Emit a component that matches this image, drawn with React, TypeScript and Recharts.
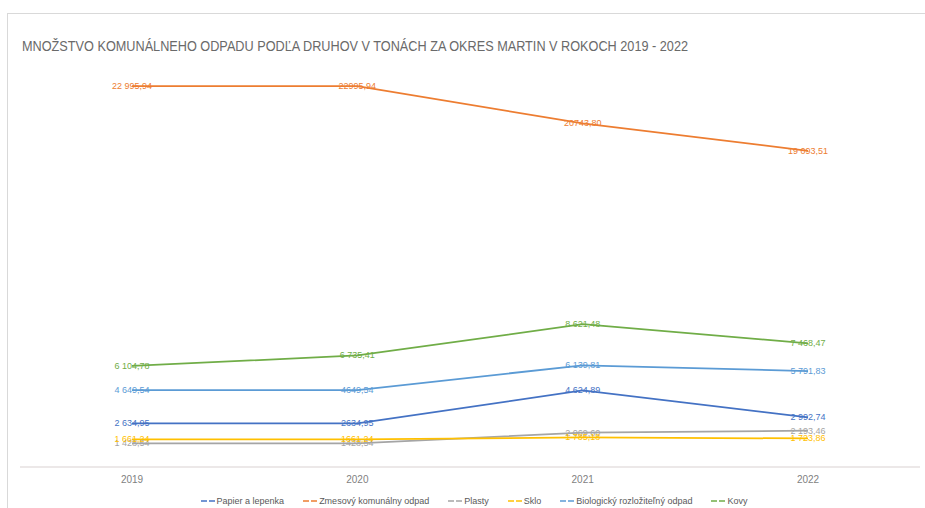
import React from "react";
import { LineChart, Line, XAxis, YAxis, Legend, LabelList } from "recharts";

const years = ["2019", "2020", "2021", "2022"];

const papier = [2634.95, 2634.95, 4624.89, 2992.74];
const zmesovy = [22995.94, 22995.94, 20743.8, 19093.51];
const plasty = [1428.54, 1428.54, 2069.6, 2193.46];
const sklo = [1661.24, 1661.24, 1785.18, 1723.86];
const bio = [4649.54, 4649.54, 6139.81, 5791.83];
const kovy = [6104.78, 6735.41, 8621.48, 7468.47];

const papierLabels = ["2 634,95", "2634,95", "4 624,89", "2 992,74"];
const zmesovyLabels = ["22 995,94", "22995,94", "20743,80", "19 093,51"];
const plastyLabels = ["1 428,54", "1428,54", "2 069,60", "2 193,46"];
const skloLabels = ["1 661,24", "1661,24", "1 785,18", "1 723,86"];
const bioLabels = ["4 649,54", "4649,54", "6 139,81", "5 791,83"];
const kovyLabels = ["6 104,78", "6 735,41", "8 621,48", "7 468,47"];

const title =
  "MNOŽSTVO KOMUNÁLNEHO ODPADU PODĽA DRUHOV V TONÁCH ZA OKRES MARTIN V ROKOCH 2019 - 2022";

const series = [
  { key: "papier", name: "Papier a lepenka", color: "#4472C4", values: papier, labels: papierLabels },
  { key: "zmesovy", name: "Zmesový komunálny odpad", color: "#ED7D31", values: zmesovy, labels: zmesovyLabels },
  { key: "plasty", name: "Plasty", color: "#A5A5A5", values: plasty, labels: plastyLabels },
  { key: "sklo", name: "Sklo", color: "#FFC000", values: sklo, labels: skloLabels },
  { key: "bio", name: "Biologický rozložiteľný odpad", color: "#5B9BD5", values: bio, labels: bioLabels },
  { key: "kovy", name: "Kovy", color: "#70AD47", values: kovy, labels: kovyLabels },
];

const data = years.map((y, i) => {
  const row: any = { year: y };
  series.forEach((s) => {
    row[s.key] = s.values[i];
  });
  return row;
});

const FONT = "'Liberation Sans', Arial, sans-serif";

const LegendContent = () => (
  <div
    style={{
      display: "flex",
      justifyContent: "center",
      alignItems: "center",
      gap: 19,
      fontFamily: FONT,
      fontSize: 9,
      color: "#595959",
      height: 14,
      paddingLeft: 8,
    }}
  >
    {series.map((s) => (
      <div key={s.key} style={{ display: "flex", alignItems: "center", gap: 2 }}>
        <svg width={14} height={6}>
          <line x1={0} y1={3} x2={6} y2={3} stroke={s.color} strokeWidth={1.5} />
          <line x1={8} y1={3} x2={14} y2={3} stroke={s.color} strokeWidth={1.5} />
        </svg>
        <span>{s.name}</span>
      </div>
    ))}
  </div>
);

export default function App() {
  return (
    <div
      style={{
        position: "absolute",
        left: 0,
        top: 0,
        width: 925,
        height: 508,
        background: "#fff",
        overflow: "hidden",
      }}
    >
      <div
        style={{
          position: "absolute",
          left: 7,
          top: 13,
          width: 940,
          height: 600,
          borderLeft: "1px solid #d9d9d9",
          borderTop: "1px solid #d9d9d9",
        }}
      />
      <svg style={{ position: "absolute", left: 0, top: 0 }} width={925} height={70}>
        <text
          x={22}
          y={51}
          fontFamily="'Liberation Sans Narrow', 'Liberation Sans', Arial, sans-serif"
          fontSize={14}
          fill="#6a6a6a"
          textLength={666}
          lengthAdjust="spacingAndGlyphs"
        >
          {title}
        </text>
      </svg>
      <LineChart
        width={925}
        height={508}
        data={data}
        margin={{ top: 53, right: 5, left: 20, bottom: 0 }}
        style={{ position: "absolute", left: 0, top: 0 }}
      >
        <XAxis
          dataKey="year"
          padding={{ left: 112, right: 112 }}
          axisLine={{ stroke: "#e6e0e0", strokeWidth: 1.5 }}
          tickLine={false}
          tickSize={0}
          tickMargin={9}
          height={27}
          interval={0}
          tick={{ fill: "#7f7f7f", fontSize: 10, fontFamily: FONT }}
        />
        <YAxis hide domain={[0, 25000]} />
        <Legend verticalAlign="bottom" height={14} content={<LegendContent />} />
        {series.map((s) => (
          <Line
            key={s.key}
            dataKey={s.key}
            name={s.name}
            stroke={s.color}
            strokeWidth={1.75}
            dot={false}
            activeDot={false}
            isAnimationActive={false}
          >
            <LabelList
              dataKey={s.key}
              content={(p: any) => (
                <text
                  x={p.x}
                  y={p.y}
                  textAnchor="middle"
                  dominantBaseline="central"
                  fontFamily={FONT}
                  fontSize={9}
                  fill={s.color}
                >
                  {s.labels[p.index]}
                </text>
              )}
            />
          </Line>
        ))}
      </LineChart>
    </div>
  );
}
